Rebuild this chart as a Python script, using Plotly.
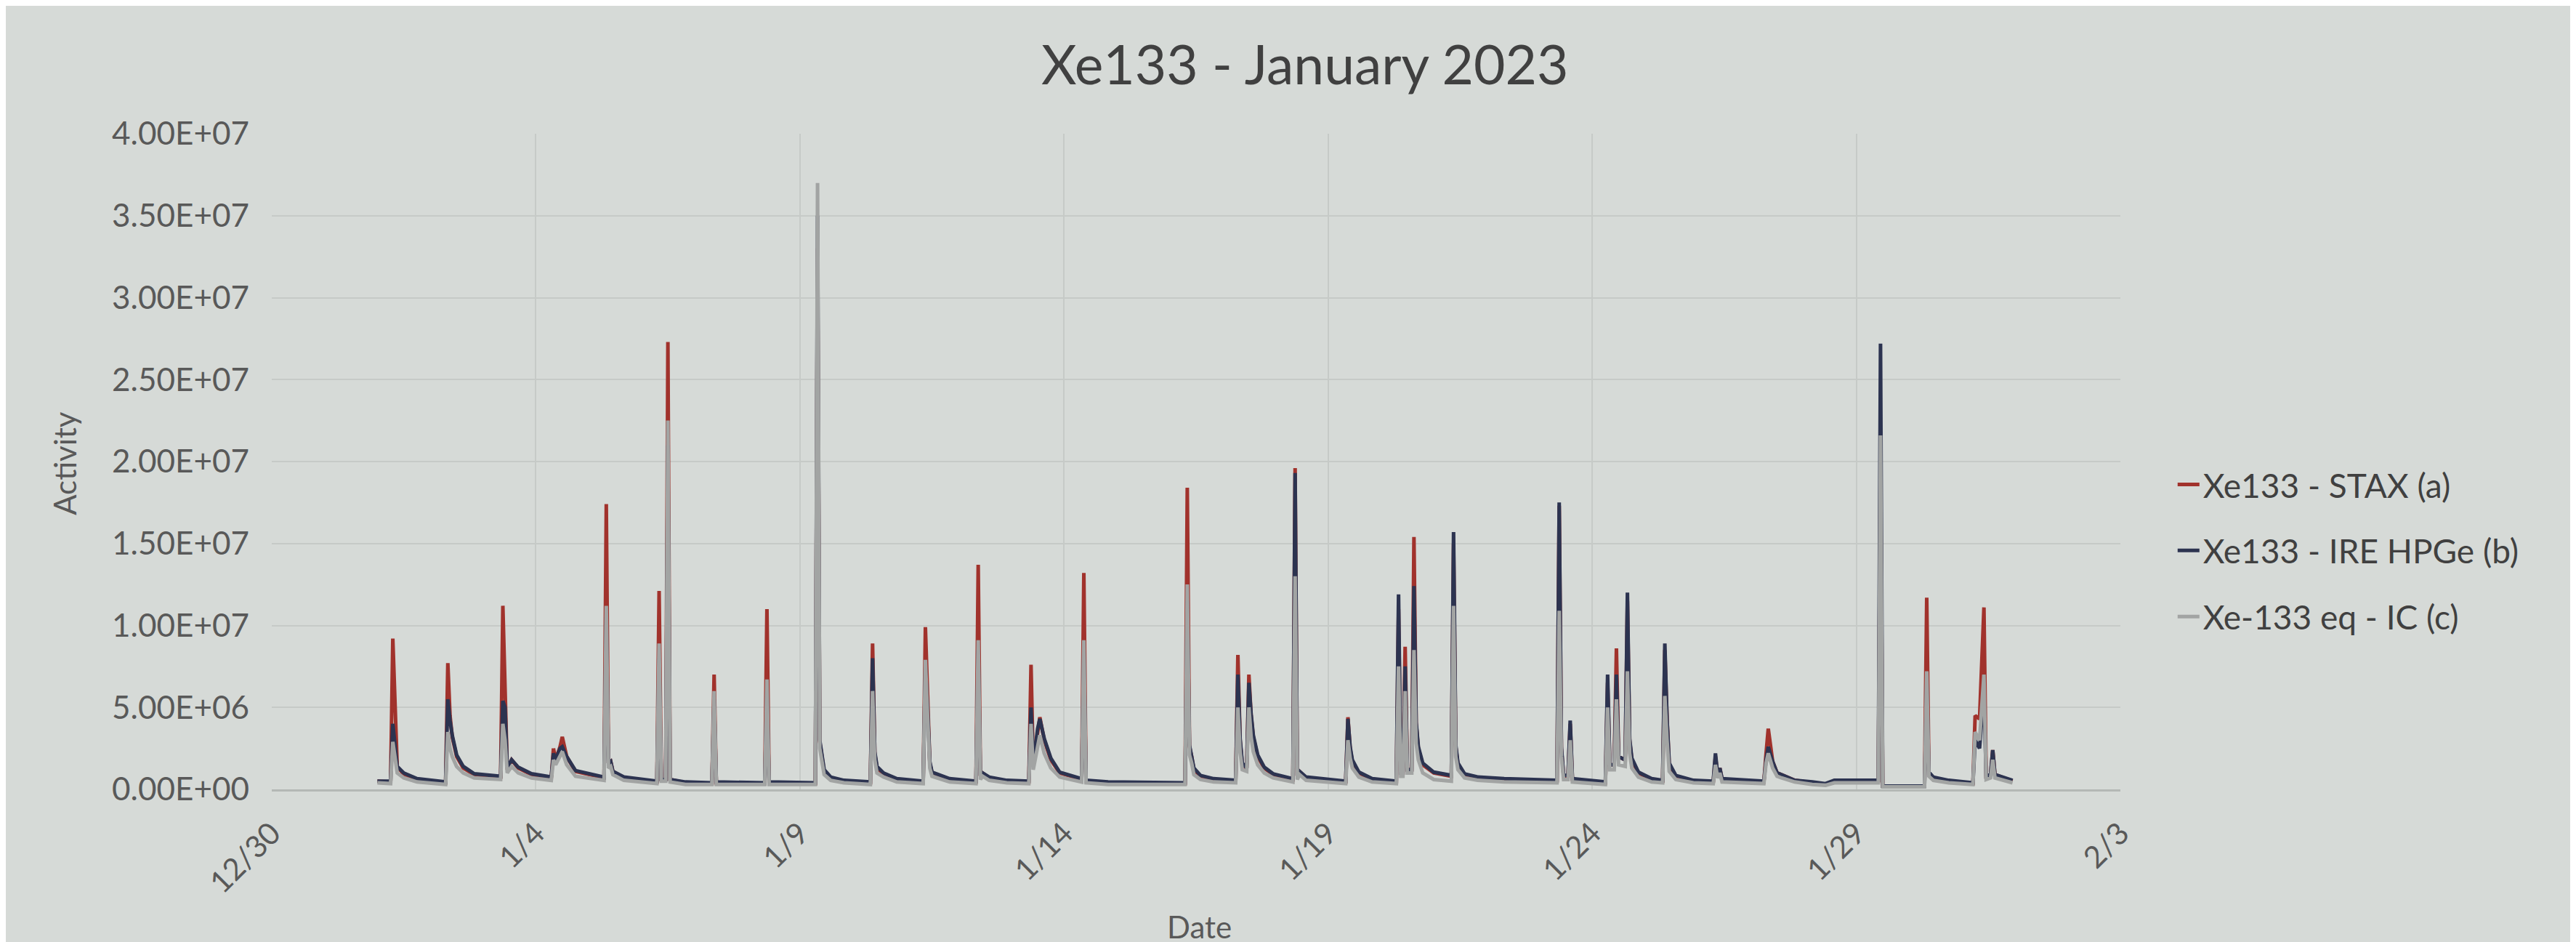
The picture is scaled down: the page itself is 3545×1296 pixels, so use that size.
import plotly.graph_objects as go

# ---------------- data ----------------
times = [
    "01-01 00:00", "01-01 06:00", "01-01 07:00", "01-01 08:00", "01-01 09:00", "01-01 12:00", "01-01 18:00",
    "01-02 07:00", "01-02 08:00", "01-02 09:00", "01-02 10:00", "01-02 12:00", "01-02 15:00", "01-02 20:00",
    "01-03 08:00", "01-03 09:00", "01-03 10:00", "01-03 11:00", "01-03 13:00", "01-03 16:00", "01-03 22:00",
    "01-04 07:00", "01-04 08:00", "01-04 09:00", "01-04 11:00", "01-04 12:00", "01-04 14:00", "01-04 18:00",
    "01-05 07:00", "01-05 08:00", "01-05 09:00", "01-05 10:00", "01-05 11:00", "01-05 16:00",
    "01-06 07:00", "01-06 08:00", "01-06 09:00", "01-06 11:00", "01-06 12:00", "01-06 13:00", "01-06 20:00",
    "01-07 08:00", "01-07 09:00", "01-07 10:00",
    "01-08 08:00", "01-08 09:00", "01-08 10:00",
    "01-09 07:00", "01-09 08:00", "01-09 09:00", "01-09 10:00", "01-09 11:00", "01-09 14:00", "01-09 20:00",
    "01-10 08:00", "01-10 09:00", "01-10 10:00", "01-10 11:00", "01-10 14:00", "01-10 20:00",
    "01-11 08:00", "01-11 09:00", "01-11 10:00", "01-11 11:00", "01-11 12:00", "01-11 20:00",
    "01-12 08:00", "01-12 09:00", "01-12 10:00", "01-12 11:00", "01-12 14:00", "01-12 22:00",
    "01-13 08:00", "01-13 09:00", "01-13 10:00", "01-13 12:00", "01-13 13:00", "01-13 15:00", "01-13 18:00", "01-13 22:00",
    "01-14 08:00", "01-14 09:00", "01-14 10:00", "01-14 20:00",
    "01-16 07:00", "01-16 08:00", "01-16 09:00", "01-16 10:00", "01-16 11:00", "01-16 14:00", "01-16 20:00",
    "01-17 06:00", "01-17 07:00", "01-17 08:00", "01-17 09:00", "01-17 11:00", "01-17 12:00", "01-17 13:00",
    "01-17 14:00", "01-17 16:00", "01-17 19:00", "01-17 23:00",
    "01-18 08:00", "01-18 09:00", "01-18 10:00", "01-18 11:00", "01-18 14:00",
    "01-19 08:00", "01-19 09:00", "01-19 10:00", "01-19 11:00", "01-19 14:00", "01-19 20:00",
    "01-20 07:00", "01-20 08:00", "01-20 09:00", "01-20 10:00", "01-20 11:00", "01-20 12:00", "01-20 14:00",
    "01-20 15:00", "01-20 16:00", "01-20 17:00", "01-20 19:00",
    "01-21 00:00", "01-21 08:00", "01-21 09:00", "01-21 10:00", "01-21 11:00", "01-21 14:00", "01-21 20:00",
    "01-22 08:00",
    "01-23 08:00", "01-23 09:00", "01-23 10:00", "01-23 11:00", "01-23 13:00", "01-23 14:00", "01-23 15:00",
    "01-24 06:00", "01-24 07:00", "01-24 08:00", "01-24 10:00", "01-24 11:00", "01-24 12:00", "01-24 15:00",
    "01-24 16:00", "01-24 17:00", "01-24 18:00", "01-24 21:00",
    "01-25 03:00", "01-25 08:00", "01-25 09:00", "01-25 10:00", "01-25 11:00", "01-25 14:00", "01-25 22:00",
    "01-26 07:00", "01-26 08:00", "01-26 09:00", "01-26 10:00", "01-26 11:00",
    "01-27 06:00", "01-27 07:00", "01-27 08:00", "01-27 10:00", "01-27 12:00", "01-27 14:00", "01-27 20:00",
    "01-28 04:00", "01-28 10:00", "01-28 14:00",
    "01-29 10:00", "01-29 11:00", "01-29 12:00",
    "01-30 07:00", "01-30 08:00", "01-30 09:00", "01-30 11:00", "01-30 18:00",
    "01-31 05:00", "01-31 06:00", "01-31 08:00", "01-31 10:00", "01-31 11:00", "01-31 13:00", "01-31 14:00",
    "01-31 15:00", "01-31 23:00",
]

stax = [  # Xe133 - STAX (a)
    0.5e6, 0.45e6, 9.2e6, 4.7e6, 1.4e6, 0.9e6, 0.6e6,
    0.4e6, 7.7e6, 4.5e6, 3.2e6, 2.0e6, 1.3e6, 0.9e6,
    0.75e6, 11.2e6, 5.4e6, 1.2e6, 1.8e6, 1.3e6, 0.9e6,
    0.7e6, 2.5e6, 1.8e6, 2.6e6, 3.2e6, 2.0e6, 1.1e6,
    0.7e6, 17.4e6, 1.6e6, 1.7e6, 1.1e6, 0.7e6,
    0.45e6, 12.1e6, 0.6e6, 0.6e6, 27.3e6, 0.6e6, 0.4e6,
    0.35e6, 7.0e6, 0.4e6,
    0.35e6, 11.0e6, 0.4e6,
    0.35e6, 33.0e6, 2.9e6, 2.0e6, 1.1e6, 0.7e6, 0.5e6,
    0.4e6, 8.9e6, 2.2e6, 1.3e6, 0.95e6, 0.6e6,
    0.45e6, 9.9e6, 5.8e6, 1.6e6, 1.0e6, 0.6e6,
    0.45e6, 13.7e6, 0.8e6, 1.0e6, 0.7e6, 0.5e6,
    0.45e6, 7.6e6, 1.5e6, 3.6e6, 4.4e6, 3.0e6, 1.8e6, 1.0e6,
    0.6e6, 13.2e6, 0.5e6, 0.4e6,
    0.35e6, 18.4e6, 2.6e6, 2.0e6, 1.2e6, 0.8e6, 0.6e6,
    0.5e6, 8.2e6, 3.0e6, 1.5e6, 1.3e6, 7.0e6, 4.5e6,
    3.2e6, 2.0e6, 1.3e6, 0.9e6,
    0.6e6, 19.6e6, 0.8e6, 1.1e6, 0.7e6,
    0.45e6, 4.4e6, 2.5e6, 1.7e6, 1.0e6, 0.6e6,
    0.45e6, 11.0e6, 1.0e6, 1.0e6, 8.7e6, 1.2e6, 1.2e6,
    15.4e6, 4.0e6, 2.5e6, 1.5e6,
    1.0e6, 0.8e6, 15.0e6, 2.6e6, 1.5e6, 0.9e6, 0.7e6,
    0.6e6,
    0.5e6, 17.3e6, 2.5e6, 0.8e6, 0.8e6, 4.0e6, 0.6e6,
    0.4e6, 6.5e6, 1.5e6, 1.5e6, 8.6e6, 2.0e6, 1.8e6,
    11.5e6, 3.0e6, 1.8e6, 1.0e6,
    0.6e6, 0.5e6, 8.5e6, 4.3e6, 1.5e6, 0.8e6, 0.5e6,
    0.45e6, 2.0e6, 0.9e6, 1.3e6, 0.6e6,
    0.45e6, 2.2e6, 3.7e6, 1.7e6, 1.0e6, 0.9e6, 0.55e6,
    0.4e6, 0.3e6, 0.5e6,
    0.5e6, 20.0e6, 0.2e6,
    0.2e6, 11.7e6, 1.0e6, 0.7e6, 0.5e6,
    0.35e6, 4.5e6, 4.3e6, 11.1e6, 0.8e6, 0.9e6, 2.4e6,
    0.9e6, 0.5e6,
]

hpge = [  # Xe133 - IRE HPGe (b)
    0.5e6, 0.5e6, 4.0e6, 2.5e6, 1.4e6, 1.0e6, 0.65e6,
    0.45e6, 5.5e6, 4.2e6, 3.3e6, 2.1e6, 1.4e6, 0.95e6,
    0.8e6, 5.4e6, 5.0e6, 1.3e6, 1.8e6, 1.35e6, 0.95e6,
    0.75e6, 2.2e6, 1.8e6, 2.5e6, 2.6e6, 2.0e6, 1.15e6,
    0.75e6, 10.5e6, 1.6e6, 1.7e6, 1.1e6, 0.75e6,
    0.5e6, 8.0e6, 0.6e6, 0.6e6, 21.0e6, 0.6e6, 0.45e6,
    0.4e6, 5.5e6, 0.45e6,
    0.4e6, 6.0e6, 0.45e6,
    0.4e6, 35.0e6, 3.0e6, 2.1e6, 1.2e6, 0.75e6, 0.55e6,
    0.45e6, 8.0e6, 2.3e6, 1.4e6, 1.0e6, 0.65e6,
    0.5e6, 7.5e6, 5.0e6, 1.7e6, 1.05e6, 0.65e6,
    0.5e6, 8.5e6, 0.85e6, 1.0e6, 0.75e6, 0.55e6,
    0.5e6, 5.0e6, 1.5e6, 3.7e6, 4.3e6, 3.1e6, 1.9e6, 1.05e6,
    0.65e6, 8.5e6, 0.55e6, 0.45e6,
    0.4e6, 11.5e6, 2.7e6, 2.1e6, 1.3e6, 0.85e6, 0.65e6,
    0.55e6, 7.0e6, 3.1e6, 1.6e6, 1.3e6, 6.5e6, 4.6e6,
    3.3e6, 2.1e6, 1.35e6, 0.95e6,
    0.65e6, 19.3e6, 0.85e6, 1.1e6, 0.75e6,
    0.5e6, 4.3e6, 2.6e6, 1.8e6, 1.05e6, 0.65e6,
    0.5e6, 11.9e6, 1.0e6, 1.0e6, 7.5e6, 1.2e6, 1.2e6,
    12.4e6, 4.1e6, 2.6e6, 1.6e6,
    1.05e6, 0.85e6, 15.7e6, 2.7e6, 1.6e6, 0.95e6, 0.75e6,
    0.65e6,
    0.55e6, 17.5e6, 2.6e6, 0.85e6, 0.85e6, 4.2e6, 0.65e6,
    0.45e6, 7.0e6, 1.5e6, 1.5e6, 7.0e6, 2.0e6, 1.8e6,
    12.0e6, 3.1e6, 1.9e6, 1.05e6,
    0.65e6, 0.55e6, 8.9e6, 4.3e6, 1.6e6, 0.85e6, 0.55e6,
    0.5e6, 2.2e6, 0.9e6, 1.3e6, 0.65e6,
    0.5e6, 1.8e6, 2.6e6, 1.7e6, 1.0e6, 0.9e6, 0.55e6,
    0.45e6, 0.35e6, 0.55e6,
    0.55e6, 27.2e6, 0.2e6,
    0.2e6, 6.5e6, 1.05e6, 0.75e6, 0.55e6,
    0.4e6, 3.0e6, 2.5e6, 6.0e6, 0.8e6, 0.9e6, 2.4e6,
    0.9e6, 0.55e6,
]

ic = [  # Xe-133 eq - IC (c)
    0.4e6, 0.35e6, 2.9e6, 2.0e6, 1.0e6, 0.7e6, 0.45e6,
    0.3e6, 3.5e6, 2.5e6, 2.0e6, 1.4e6, 1.0e6, 0.7e6,
    0.6e6, 4.0e6, 3.0e6, 1.0e6, 1.4e6, 1.0e6, 0.7e6,
    0.55e6, 1.8e6, 1.5e6, 2.0e6, 2.3e6, 1.5e6, 0.8e6,
    0.55e6, 11.2e6, 1.3e6, 1.4e6, 0.9e6, 0.55e6,
    0.35e6, 8.9e6, 0.5e6, 0.5e6, 22.5e6, 0.45e6, 0.3e6,
    0.3e6, 6.0e6, 0.3e6,
    0.3e6, 6.7e6, 0.3e6,
    0.3e6, 37.0e6, 2.5e6, 1.7e6, 0.9e6, 0.55e6, 0.4e6,
    0.3e6, 6.0e6, 1.8e6, 1.0e6, 0.75e6, 0.45e6,
    0.35e6, 7.9e6, 4.5e6, 1.3e6, 0.8e6, 0.45e6,
    0.35e6, 9.1e6, 0.6e6, 0.8e6, 0.55e6, 0.4e6,
    0.35e6, 4.0e6, 1.2e6, 2.8e6, 3.3e6, 2.2e6, 1.3e6, 0.75e6,
    0.45e6, 9.1e6, 0.4e6, 0.3e6,
    0.3e6, 12.5e6, 2.1e6, 1.6e6, 0.9e6, 0.6e6, 0.45e6,
    0.4e6, 5.0e6, 2.3e6, 1.2e6, 1.1e6, 5.0e6, 3.2e6,
    2.3e6, 1.5e6, 1.0e6, 0.7e6,
    0.45e6, 13.0e6, 0.6e6, 0.9e6, 0.55e6,
    0.35e6, 3.0e6, 1.9e6, 1.3e6, 0.75e6, 0.45e6,
    0.35e6, 7.5e6, 0.8e6, 0.8e6, 6.0e6, 1.0e6, 1.0e6,
    8.5e6, 2.8e6, 1.8e6, 1.0e6,
    0.6e6, 0.5e6, 11.2e6, 2.0e6, 1.2e6, 0.7e6, 0.55e6,
    0.45e6,
    0.4e6, 10.9e6, 2.0e6, 0.6e6, 0.6e6, 3.0e6, 0.45e6,
    0.3e6, 5.0e6, 1.2e6, 1.2e6, 5.5e6, 1.5e6, 1.4e6,
    7.2e6, 2.2e6, 1.3e6, 0.75e6,
    0.45e6, 0.4e6, 5.7e6, 3.0e6, 1.1e6, 0.6e6, 0.4e6,
    0.35e6, 1.5e6, 0.7e6, 1.0e6, 0.45e6,
    0.35e6, 1.6e6, 2.2e6, 1.3e6, 0.8e6, 0.7e6, 0.45e6,
    0.3e6, 0.25e6, 0.4e6,
    0.4e6, 21.6e6, 0.15e6,
    0.15e6, 7.2e6, 0.8e6, 0.55e6, 0.4e6,
    0.3e6, 3.5e6, 3.0e6, 7.0e6, 0.6e6, 0.7e6, 1.8e6,
    0.7e6, 0.4e6,
]

series_names = ["Xe133 - STAX (a)", "Xe133 - IRE HPGe (b)", "Xe-133 eq - IC (c)"]
series_colors = ["#a1322c", "#2c3350", "#a2a4a3"]

y_tickvals = [0, 5e6, 10e6, 15e6, 20e6, 25e6, 30e6, 35e6, 40e6]
y_ticktext = ["0.00E+00", "5.00E+06", "1.00E+07", "1.50E+07", "2.00E+07",
              "2.50E+07", "3.00E+07", "3.50E+07", "4.00E+07"]
x_tickvals = ["2022-12-30", "2023-01-04", "2023-01-09", "2023-01-14",
              "2023-01-19", "2023-01-24", "2023-01-29", "2023-02-03"]
x_ticktext = ["12/30", "1/4", "1/9", "1/14", "1/19", "1/24", "1/29", "2/3"]

assert len(times) == len(stax) == len(hpge) == len(ic)

# ---------------- figure ----------------
x_dates = ["2023-" + t for t in times]
BG = "#d6dad7"
GRID = "#c6cac7"
FONT = "Lato"

fig = go.Figure()
for name, vals, col in zip(series_names, [stax, hpge, ic], series_colors):
    fig.add_trace(go.Scatter(
        x=x_dates, y=vals, mode="lines", name=name,
        line=dict(color=col, width=5), legendgroup=name,
    ))

fig.update_layout(
    width=3545, height=1296,
    margin=dict(l=366, r=635, t=176, b=218),
    paper_bgcolor=BG, plot_bgcolor=BG,
    font=dict(family=FONT, color="#595959", size=42),
    showlegend=True,
    legend=dict(
        x=1.029, y=0.364, xanchor="left", yanchor="middle",
        bgcolor="rgba(0,0,0,0)", font=dict(size=46, color="#404040"),
        tracegroupgap=28, itemwidth=30,
    ),
)

fig.update_xaxes(
    type="date", range=["2022-12-30", "2023-02-03"],
    tickmode="array", tickvals=x_tickvals, ticktext=x_ticktext,
    tickangle=-45, tickfont=dict(size=42, color="#595959"),
    showgrid=True, gridcolor=GRID, gridwidth=2,
    showline=True, linecolor="#b4b8b5", linewidth=3,
    zeroline=False, ticks="", ticklabelstandoff=16,
)
fig.update_yaxes(
    range=[0, 4e7], tickmode="array", tickvals=y_tickvals, ticktext=y_ticktext,
    tickfont=dict(size=44, color="#595959"),
    showgrid=True, gridcolor=GRID, gridwidth=2,
    showline=False, zeroline=False, ticks="", ticklabelstandoff=30,
)

fig.add_annotation(text="Xe133 - January 2023", xref="paper", yref="paper",
                   x=0.559, y=1.107, xanchor="center", yanchor="middle",
                   showarrow=False, font=dict(size=75, color="#404040", family=FONT))
fig.add_annotation(text="Activity", xref="paper", yref="paper",
                   x=-0.112, y=0.497, xanchor="center", yanchor="middle", textangle=-90,
                   showarrow=False, font=dict(size=42, color="#595959", family=FONT))
fig.add_annotation(text="Date", xref="paper", yref="paper",
                   x=0.5016, y=-0.209, xanchor="center", yanchor="middle",
                   showarrow=False, font=dict(size=42, color="#595959", family=FONT))

fig.write_html("out.html")
